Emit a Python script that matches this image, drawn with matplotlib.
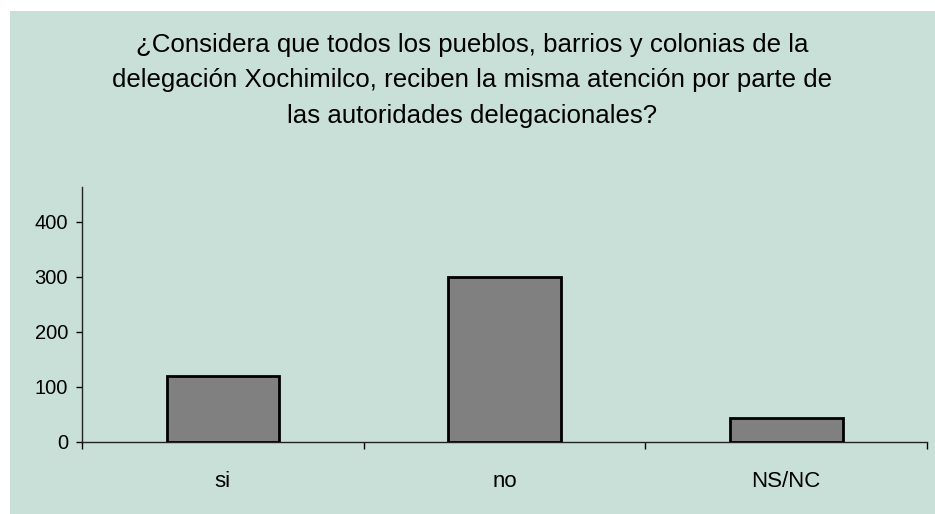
import matplotlib
matplotlib.use("Agg")
import matplotlib.pyplot as plt

# data
categories = ["si", "no", "NS/NC"]
values = [120, 300, 42]
y_ticks = [0, 100, 200, 300, 400]
title = ("¿Considera que todos los pueblos, barrios y colonias de la\n"
         "delegación Xochimilco, reciben la misma atención por parte de\n"
         "las autoridades delegacionales?")

plt.rcParams['font.family'] = ['Liberation Sans', 'DejaVu Sans']

W, H = 935, 514
bg = '#c9e0d8'

fig = plt.figure(figsize=(W / 100, H / 100), dpi=100)
fig.patch.set_facecolor('white')

# green panel, slightly inset from the top-left
panel = fig.add_axes([10 / W, 0, 1 - 10 / W, 1 - 11 / H])
panel.set_facecolor(bg)
panel.set_xticks([])
panel.set_yticks([])
for s in panel.spines.values():
    s.set_visible(False)

ax = fig.add_axes([82 / W, 1 - 441.5 / H, (927 - 82) / W, (441.5 - 187) / H])
ax.set_facecolor('none')

x = range(len(categories))
ax.bar(x, values, width=0.4, color='#808080', edgecolor='black', linewidth=2, zorder=3)

ax.set_xlim(-0.5, len(categories) - 0.5)
ax.set_ylim(0, 463)
ax.set_yticks(y_ticks)
ax.set_xticks(list(x))
ax.set_xticklabels(categories)
ax.set_xticks([i - 0.5 for i in range(len(categories) + 1)], minor=True)

ax.tick_params(axis='x', which='major', length=0, pad=21, labelsize=16)
ax.tick_params(axis='x', which='minor', length=5, width=1, direction='out')
ax.tick_params(axis='y', length=4, width=1, direction='out', pad=6, labelsize=14.5)

for s in ['top', 'right']:
    ax.spines[s].set_visible(False)
for s in ['left', 'bottom']:
    ax.spines[s].set_linewidth(1)
    ax.spines[s].set_color('#222222')

fig.text(472 / W, 1 - 80.5 / H, title, ha='center', va='center', fontsize=18.6,
         linespacing=1.62)

fig.savefig('out.png', dpi=100, facecolor=fig.get_facecolor())
